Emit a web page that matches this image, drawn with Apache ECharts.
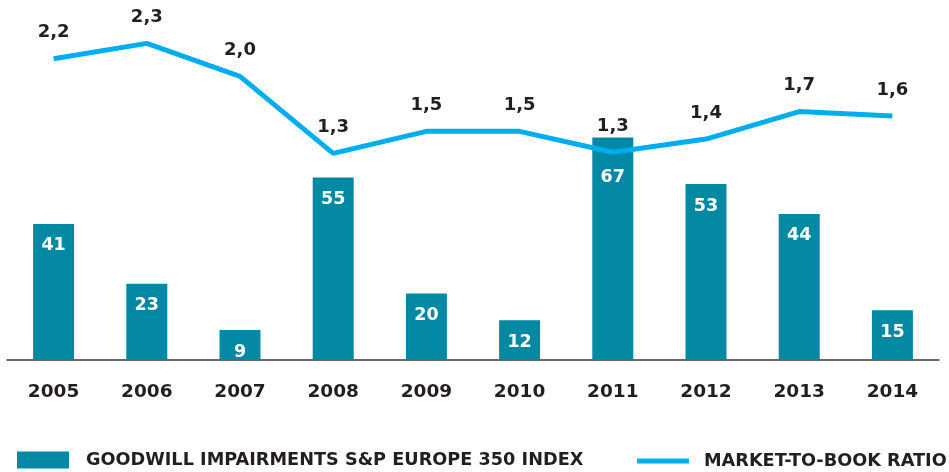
<!DOCTYPE html>
<html>
<head>
<meta charset="utf-8">
<script src="https://cdn.jsdelivr.net/npm/echarts@6/dist/echarts.min.js"></script>
<style>
  html, body { margin: 0; padding: 0; background: #fff; }
  #chart { width: 949px; height: 472px; }
</style>
</head>
<body>
<div id="chart"></div>
<script>
const years = ['2005', '2006', '2007', '2008', '2009', '2010', '2011', '2012', '2013', '2014'];
const impairments = [41, 23, 9, 55, 20, 12, 67, 53, 44, 15];
const marketToBook = [2.16, 2.3, 2.0, 1.3, 1.5, 1.5, 1.31, 1.43, 1.68, 1.64];
const barName = 'GOODWILL IMPAIRMENTS S&P EUROPE 350 INDEX';
const lineName = 'MARKET-TO-BOOK RATIO';

const font = 'DejaVu Sans';
const dark = '#231f20';

const myChart = echarts.init(document.getElementById('chart'), null, { renderer: 'canvas' });

// the 2011 bar label sits lower in the original so it clears the line
const barData = impairments.map((v, i) => years[i] === '2011' ? { value: v, label: { distance: 31 } } : v);

const option = {
  animation: false,
  grid: { left: 7, right: 10, top: 28, bottom: 112, containLabel: false },
  legend: [
    {
      left: 17, top: 451, padding: 0,
      itemWidth: 52, itemHeight: 17,
      data: [{ name: barName, icon: 'rect' }],
      textStyle: { fontFamily: font, fontWeight: 'bold', fontSize: 17.7, color: dark, padding: [0, 0, 0, 12] }
    },
    {
      left: 637, top: 452, padding: 0,
      itemWidth: 52, itemHeight: 5,
      data: [{ name: lineName, icon: 'rect' }],
      textStyle: { fontFamily: font, fontWeight: 'bold', fontSize: 17.7, color: dark, padding: [0, 0, 0, 10] }
    }
  ],
  xAxis: {
    type: 'category',
    data: years,
    axisLine: { lineStyle: { color: '#3a3a3a', width: 1.5 } },
    axisTick: { show: false },
    axisLabel: { fontFamily: font, fontWeight: 'bold', fontSize: 18.5, color: dark, margin: 23 }
  },
  yAxis: [
    { type: 'value', min: 0, max: 100, show: false, splitLine: { show: false } },
    { type: 'value', min: -0.58, max: 2.44, show: false, splitLine: { show: false } }
  ],
  series: [
    {
      name: barName,
      type: 'bar',
      data: barData,
      barWidth: 41,
      itemStyle: { color: '#0389a3' },
      label: {
        show: true, position: 'insideTop', distance: 13,
        fontFamily: font, fontWeight: 'bold', fontSize: 17.5, color: '#fff'
      }
    },
    {
      name: lineName,
      type: 'line',
      yAxisIndex: 1,
      data: marketToBook,
      symbol: 'circle',
      symbolSize: 0.01,
      showSymbol: true,
      lineStyle: { color: '#00aeef', width: 5 },
      itemStyle: { color: '#00aeef' },
      label: {
        show: true, position: 'top', distance: 17,
        fontFamily: font, fontWeight: 'bold', fontSize: 18, color: dark,
        formatter: (p) => p.value.toFixed(1).replace('.', ',')
      }
    }
  ]
};

myChart.setOption(option);
</script>
</body>
</html>
